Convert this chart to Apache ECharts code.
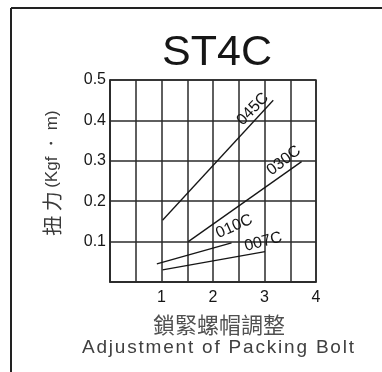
<!DOCTYPE html>
<html>
<head>
<meta charset="utf-8">
<style>
  html, body { margin: 0; padding: 0; background: #fff; }
  #chart { width: 382px; height: 372px; }
</style>
<script src="https://cdn.jsdelivr.net/npm/echarts@6/dist/echarts.min.js"></script>
</head>
<body>
<div id="chart"></div>
<script>
// Torque curves for the ST4C packing sets
const seriesNames = ['045C', '030C', '010C', '007C'];
// bolt adjustment (turns) at the start and end of each curve
const turns045C = [1.02, 3.17];
const torque045C = [0.153, 0.45];
const turns030C = [1.52, 3.72];
const torque030C = [0.10, 0.298];
const turns010C = [0.91, 2.36];
const torque010C = [0.045, 0.097];
const turns007C = [1.02, 3.01];
const torque007C = [0.030, 0.075];

const xTickLabels = ['1', '2', '3', '4'];
const yTickLabels = ['0.1', '0.2', '0.3', '0.4', '0.5'];

const turnsAll = [turns045C, turns030C, turns010C, turns007C];
const torqueAll = [torque045C, torque030C, torque010C, torque007C];

// where each curve name sits: fraction along the curve, lift above it (px), text angle (deg)
const labelPlacement = [
  { t: 0.875, lift: 9, angle: 46 },
  { t: 0.90, lift: 11, angle: 38 },
  { t: 1.09, lift: 15, angle: 24 },
  { t: 1.00, lift: 10, angle: 15 }
];

const FONT = '"Liberation Sans", Arial, sans-serif';
const CJK = '"Noto Sans CJK TC", sans-serif';
const GRID = '#2a2a2a';
const INK = '#161616';

const chart = echarts.init(document.getElementById('chart'), null, { renderer: 'canvas' });

const series = seriesNames.map((name, i) => ({
  name: name,
  type: 'line',
  data: turnsAll[i].map((x, k) => [x, torqueAll[i][k]]),
  symbol: 'none',
  lineStyle: { color: INK, width: 1.3 },
  silent: true,
  animation: false
}));

chart.setOption({
  animation: false,
  backgroundColor: '#fff',
  title: {
    text: 'ST4C',
    left: 212,
    top: 27,
    textAlign: 'center',
    textStyle: { fontFamily: FONT, fontSize: 43, fontWeight: 'normal', color: INK }
  },
  grid: {
    left: 110, right: 66, top: 80, bottom: 90,
    show: true, borderColor: GRID, borderWidth: 1.5, backgroundColor: 'transparent'
  },
  xAxis: {
    type: 'value',
    min: 0, max: 4, interval: 0.5,
    axisLine: { show: true, lineStyle: { color: GRID, width: 1.5 } },
    axisTick: { show: false },
    splitLine: { show: true, lineStyle: { color: GRID, width: 1.5 } },
    axisLabel: {
      margin: 8,
      fontFamily: FONT, fontSize: 16, color: INK,
      formatter: v => {
        const s = String(v);
        return xTickLabels.includes(s) ? s : '';
      }
    }
  },
  yAxis: {
    type: 'value',
    min: 0, max: 0.5, interval: 0.1,
    axisLine: { show: true, lineStyle: { color: GRID, width: 1.5 } },
    axisTick: { show: false },
    splitLine: { show: true, lineStyle: { color: GRID, width: 1.5 } },
    axisLabel: {
      margin: 4,
      fontFamily: FONT, fontSize: 16, color: INK,
      formatter: v => {
        const s = (Math.round(v * 10) / 10).toFixed(1);
        return yTickLabels.includes(s) ? s : '';
      }
    }
  },
  series: series
});

// Curve names, laid along each curve using the chart's own coordinate conversion
const curveLabels = seriesNames.map((name, i) => {
  const p0 = chart.convertToPixel({ gridIndex: 0 }, [turnsAll[i][0], torqueAll[i][0]]);
  const p1 = chart.convertToPixel({ gridIndex: 0 }, [turnsAll[i][1], torqueAll[i][1]]);
  const pl = labelPlacement[i];
  const dx = p1[0] - p0[0], dy = p1[1] - p0[1];
  const len = Math.hypot(dx, dy);
  const ux = dx / len, uy = dy / len;
  const nx = uy, ny = -ux; // normal pointing above the curve
  return {
    type: 'text',
    x: p0[0] + dx * pl.t + nx * pl.lift,
    y: p0[1] + dy * pl.t + ny * pl.lift,
    rotation: pl.angle * Math.PI / 180,
    style: {
      text: name, align: 'center', verticalAlign: 'middle',
      fontFamily: FONT, fontSize: 16, fill: INK
    },
    z: 10
  };
});

// widely tracked caption: every character is its own rich-text run with side padding
const trackedCaption = 'Adjustment of Packing Bolt';
const trackedText = trackedCaption.split('').map(ch => '{c|' + ch + '}').join('');

const decorations = [
  // outer frame: top and left rules
  { type: 'line', shape: { x1: 11, y1: 8, x2: 382, y2: 8 }, style: { stroke: '#222', lineWidth: 2 } },
  { type: 'line', shape: { x1: 11, y1: 8, x2: 11, y2: 372 }, style: { stroke: '#222', lineWidth: 2 } },
  // y axis title
  {
    type: 'text', x: 52, y: 173, rotation: Math.PI / 2,
    style: {
      text: '{cn|扭 力} {en|(Kgf ・ m)}',
      align: 'center', verticalAlign: 'middle',
      rich: {
        cn: { fontFamily: CJK, fontSize: 20, fill: '#3a3a3a' },
        en: { fontFamily: FONT, fontSize: 17, fill: '#3a3a3a' }
      }
    }
  },
  // x axis title, two lines
  {
    type: 'text', x: 219, y: 325,
    style: {
      text: '鎖緊螺帽調整', align: 'center', verticalAlign: 'middle',
      fontFamily: CJK, fontSize: 22, fill: '#505050'
    }
  },
  {
    type: 'text', x: 218, y: 348,
    style: {
      text: trackedText, align: 'center', verticalAlign: 'middle',
      rich: {
        c: { fontFamily: FONT, fontSize: 19, fill: '#404040', padding: [0, 0.9, 0, 0.9] }
      }
    }
  }
];

chart.setOption({ graphic: decorations.concat(curveLabels) });
</script>
</body>
</html>
